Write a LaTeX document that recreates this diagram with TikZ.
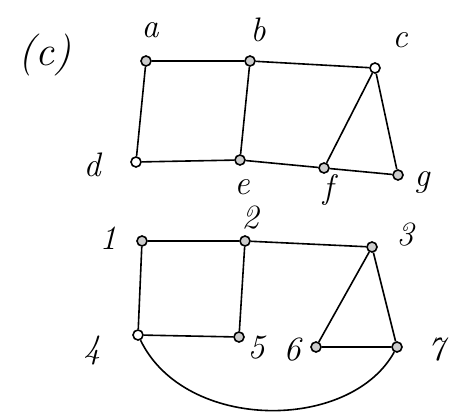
\documentclass[tikz,border=0pt]{standalone}
\usepackage{fontspec}
\setmainfont{Latin Modern Roman}
\begin{document}
\begin{tikzpicture}[x=1pt,y=-1pt,
  vtx/.style={circle,draw,line width=1.6pt,fill=gray!40,minimum size=10pt,inner sep=0pt},
  lbl/.style={font=\fontsize{34}{34}\selectfont\itshape},
  edge/.style={line width=1.6pt}]
\useasboundingbox (0,0) rectangle (454,417);
\node[lbl,font=\fontsize{42}{42}\selectfont\itshape] (title) at (45,55) {(c)};
% top graph
\node[vtx] (a) at (146,61) {};
\node[vtx] (b) at (250,61) {};
\node[vtx,fill=white] (c) at (375,68) {};
\node[vtx,fill=white] (d) at (136,162) {};
\node[vtx] (e) at (240,160) {};
\node[vtx] (f) at (324,168) {};
\node[vtx] (g) at (398,175) {};
\node[lbl] (la) at (150,30) {a};
\node[lbl] (lb) at (258,30) {b};
\node[lbl] (lc) at (400,40) {c};
\node[lbl] (ld) at (92,165) {d};
\node[lbl] (le) at (242,187) {e};
\node[lbl] (lf) at (328,190) {f};
\node[lbl] (lg) at (422,182) {g};
\draw[edge] (a) -- (b) (b) -- (c) (a) -- (d) (b) -- (e) (d) -- (e) (e) -- (f) (f) -- (g) (c) -- (f) (c) -- (g);
% bottom graph
\node[vtx] (n1) at (142,241) {};
\node[vtx] (n2) at (245,241) {};
\node[vtx] (n3) at (372,247) {};
\node[vtx,fill=white] (n4) at (138,335) {};
\node[vtx] (n5) at (239,337) {};
\node[vtx] (n6) at (316,347) {};
\node[vtx] (n7) at (397,347) {};
\node[lbl] (l1) at (108,238) {1};
\node[lbl] (l2) at (250,218) {2};
\node[lbl] (l3) at (405,235) {3};
\node[lbl] (l4) at (92,350) {4};
\node[lbl] (l5) at (256,348) {5};
\node[lbl] (l6) at (292,350) {6};
\node[lbl] (l7) at (436,350) {7};
\draw[edge] (n1) -- (n2) (n2) -- (n3) (n1) -- (n4) (n2) -- (n5) (n4) -- (n5) (n3) -- (n6) (n3) -- (n7) (n6) -- (n7);
\draw[edge] (n4) .. controls (185,432) and (350,432) .. (n7);
\end{tikzpicture}
\end{document}
